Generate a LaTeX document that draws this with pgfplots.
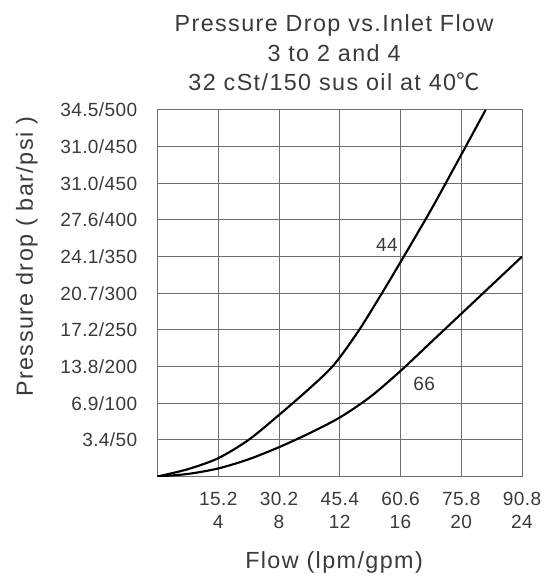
\documentclass[border=0pt]{standalone}
\usepackage{fontspec}
\setmainfont{Liberation Sans}
\newfontfamily\widefont[LetterSpace=6]{Liberation Sans}
\newfontfamily\tickfont[LetterSpace=2]{Liberation Sans}
\newfontfamily\cjk{Noto Sans CJK SC}
\usepackage{pgfplots}
\pgfplotsset{compat=1.18}
\definecolor{txt}{HTML}{3A3A3A}
\definecolor{gridc}{HTML}{6E6E6E}

% curve 44: flow (gpm), pressure (grid rows)
\pgfplotstableread{
x y
0 0
2 0.2
4 0.5
6 1.0
8 1.68
10 2.4
11.6 3.04
13.2 3.95
14.6 4.88
16 5.85
18 7.27
20 8.78
21.6 10
}\curvefour
% curve 66
\pgfplotstableread{
x y
0 0
2 0.07
4 0.22
6 0.47
8 0.8
10 1.18
12 1.61
14 2.17
16 2.88
18 3.66
20 4.44
22 5.22
24 6
}\curvesix

\begin{document}
\begin{tikzpicture}
\begin{axis}[
  name=ax,
  scale only axis,
  width=273.4pt, height=274.9pt,
  xmin=0, xmax=24, ymin=0, ymax=10,
  xtick={4,8,12,16,20,24},
  xticklabels={{15.2\\4},{30.2\\8},{45.4\\12},{60.6\\16},{75.8\\20},{90.8\\24}},
  ytick={0,1,...,10},
  yticklabels={,3.4/50,6.9/100,13.8/200,17.2/250,20.7/300,24.1/350,27.6/400,31.0/450,31.0/450,34.5/500},
  grid=major,
  major grid style={gridc, line width=0.75pt},
  axis line style={gridc, line width=0.75pt},
  major tick length=0pt,
  tick label style={font=\tickfont\fontsize{14.3}{17.5}\selectfont, text=txt, inner sep=0pt},
  xticklabel style={align=center, anchor=north, yshift=-11.4pt},
  yticklabel style={anchor=east, xshift=-15pt},
]
\addplot[black, line width=1.6pt, smooth] table {\curvefour};
\addplot[black, line width=1.6pt, smooth] table {\curvesix};
\node[text=txt, font=\tickfont\fontsize{14.3}{17.5}\selectfont] at (axis cs:15.1,6.32) {44};
\node[text=txt, font=\tickfont\fontsize{14.3}{17.5}\selectfont] at (axis cs:17.55,2.52) {66};
\end{axis}
\begin{scope}[shift={(ax.south west)}]
  \node[anchor=base, text=txt, font=\widefont\fontsize{17.5}{21}\selectfont] at (132.4pt,333.75pt) {Pressure Drop vs.Inlet Flow};
  \node[anchor=base, text=txt, font=\widefont\fontsize{17.5}{21}\selectfont] at (132.4pt,311.6pt) {3 to 2 and 4};
  \node[anchor=base, text=txt, font=\widefont\fontsize{17.5}{21}\selectfont] at (132.4pt,289.5pt) {32 cSt/150 sus oil at 40{\cjk ℃}};
  \node[anchor=base, text=txt, font=\widefont\fontsize{17.5}{21}\selectfont] at (132.4pt,-68.85pt) {Flow (lpm/gpm)};
  \node[anchor=base, rotate=90, text=txt, font=\widefont\fontsize{17.5}{21}\selectfont] at (-93.4pt,164.85pt) {Pressure drop ( bar/psi )};
  \pgfresetboundingbox
  \path[use as bounding box] (-118.125pt,-76.125pt) rectangle (290.625pt,357.375pt);
\end{scope}
\end{tikzpicture}
\end{document}
